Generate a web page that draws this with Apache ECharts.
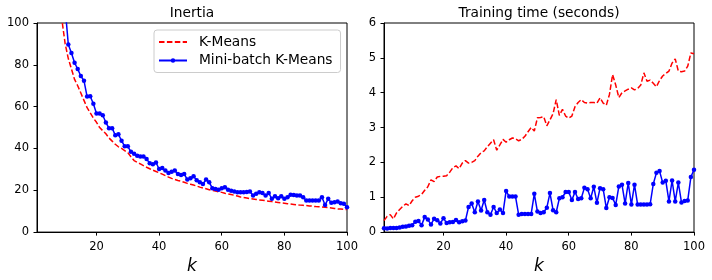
<!DOCTYPE html>
<html>
<head>
<meta charset="utf-8">
<script src="https://cdn.jsdelivr.net/npm/echarts@6/dist/echarts.min.js"></script>
<style>html,body{margin:0;padding:0;background:#fff}#c{width:712px;height:280px}</style>
</head>
<body>
<div id="c"></div>
<script>
const ks = [1,2,3,4,5,6,7,8,9,10,11,12,13,14,15,16,17,18,19,20,21,22,23,24,25,26,27,28,29,30,31,32,33,34,35,36,37,38,39,40,41,42,43,44,45,46,47,48,49,50,51,52,53,54,55,56,57,58,59,60,61,62,63,64,65,66,67,68,69,70,71,72,73,74,75,76,77,78,79,80,81,82,83,84,85,86,87,88,89,90,91,92,93,94,95,96,97,98,99,100];

const inertiaKMeans = [3500,1500,700,400,212,170,140,115,101,90,83,78,73,70,66.5,63,59.5,57,54.5,52.5,50,48.5,47,45,43.5,42,40.8,40,39,38,36,34.2,33.4,32.6,31.8,31.0,30.3,29.6,29.0,28.4,27.7,27.0,26.3,25.7,25.2,24.7,24.3,23.8,23.3,22.9,22.5,22.0,21.5,21.1,20.7,20.3,19.9,19.6,19.3,19.0,18.6,18.3,18.0,17.6,17.3,16.8,16.5,16.3,16.0,15.8,15.6,15.4,15.2,15.0,14.8,14.6,14.4,14.2,14.0,13.8,13.6,13.4,13.2,13.0,12.9,12.8,12.7,12.5,12.4,12.2,12.1,12.0,11.9,11.7,11.5,11.3,11.1,11.0,10.9,10.8];

const inertiaMiniBatch = [3600,1300,700,420,230,190,160,140,120,107,89.7,85.7,81,78,74.6,72.4,64.8,65,61.4,56.7,56.7,55.9,52.4,49.7,49.7,46.3,46.8,43.7,41,41,38.4,37.5,36.5,36.2,36.2,34.9,32.9,32.5,33.3,30.2,30.6,29.4,28.3,28.9,29.4,27.8,27.3,27.8,25.1,25.7,26.7,24.8,23.8,23,25.1,23.8,21,20.6,20.2,21,21.4,20.3,19.8,19.4,19,19,19,19.2,19.4,17.5,18.3,19,18.7,17.5,18.7,15.9,17.1,16.2,17.1,15.9,16.7,17.9,17.8,17.5,17.5,16.7,15.1,15.1,15.1,15.1,15.1,16.7,13,15.9,14,14.3,14.6,13.8,13.5,11.9];

const timeKMeans = [0.33,0.45,0.5,0.38,0.55,0.65,0.74,0.81,0.76,0.9,1.0,1.03,1.08,1.2,1.3,1.5,1.45,1.58,1.6,1.6,1.62,1.72,1.85,1.9,1.82,1.98,2.05,1.98,2.0,2.05,2.18,2.28,2.33,2.45,2.55,2.65,2.35,2.5,2.66,2.58,2.65,2.7,2.68,2.62,2.66,2.75,2.88,3.0,2.9,3.28,3.29,3.31,3.05,3.22,3.4,3.8,3.35,3.52,3.33,3.27,3.33,3.6,3.72,3.8,3.72,3.7,3.72,3.72,3.7,3.85,3.7,3.64,3.95,4.52,4.22,3.86,4.0,4.05,4.1,4.14,4.08,4.12,4.22,4.57,4.33,4.36,4.27,4.17,4.35,4.48,4.55,4.62,4.85,4.97,4.62,4.6,4.62,4.76,5.14,5.12];

const timeMiniBatch = [0.11,0.1,0.12,0.12,0.12,0.13,0.15,0.16,0.18,0.2,0.3,0.32,0.2,0.43,0.36,0.22,0.38,0.34,0.25,0.4,0.26,0.28,0.29,0.35,0.28,0.31,0.33,0.72,0.82,0.57,0.88,0.62,0.92,0.57,0.5,0.72,0.55,0.65,0.55,1.18,1.02,1.02,1.02,0.5,0.52,0.52,0.52,0.52,1.1,0.59,0.55,0.57,0.7,1.12,0.63,0.57,0.97,1.0,1.15,1.15,0.92,1.15,0.95,0.97,1.27,1.23,0.97,1.3,0.84,1.26,1.23,0.69,1.0,0.98,0.78,1.31,1.36,0.82,1.41,0.79,1.36,0.79,0.79,0.79,0.79,0.8,1.38,1.7,1.75,1.42,1.47,0.88,1.48,0.88,1.42,0.85,0.89,0.91,1.58,1.79];

const xTicks = [20,40,60,80,100];
const titles = ['Inertia','Training time (seconds)'];
const seriesNames = ['K-Means','Mini-batch K-Means'];
const xName = 'k';

const FONT = 'DejaVu Sans';
const pair = (ys) => ks.map((k, i) => [k, ys[i]]);

function xAxisFor(gi) {
  return {
    type: 'value', gridIndex: gi, min: 1, max: 100,
    name: xName, nameLocation: 'middle', nameGap: 23,
    nameTextStyle: {fontFamily: FONT, fontSize: 17, fontStyle: 'italic', color: '#000'},
    axisLine: {show: true, onZero: false, lineStyle: {color: '#000', width: 1}},
    axisTick: {show: true, inside: false, length: 3.5, customValues: xTicks, lineStyle: {color: '#000', width: 1}},
    axisLabel: {customValues: xTicks, fontFamily: FONT, fontSize: 11.5, color: '#000', margin: 9},
    splitLine: {show: false}
  };
}
function yAxisFor(gi, max, interval) {
  return {
    type: 'value', gridIndex: gi, min: 0, max: max, interval: interval,
    axisLine: {show: true, lineStyle: {color: '#000', width: 1}},
    axisTick: {show: true, inside: false, length: 3.5, lineStyle: {color: '#000', width: 1}},
    axisLabel: {fontFamily: FONT, fontSize: 11.5, color: '#000', margin: 8},
    splitLine: {show: false}
  };
}
function redSeries(gi, ys) {
  return {
    name: seriesNames[0], type: 'line', xAxisIndex: gi, yAxisIndex: gi,
    data: pair(ys), symbol: 'none', clip: true, animation: false,
    lineStyle: {color: '#ff0000', width: 1.5, type: [5.5, 2.4]},
    itemStyle: {color: '#ff0000'}
  };
}
function blueSeries(gi, ys) {
  return {
    name: seriesNames[1], type: 'line', xAxisIndex: gi, yAxisIndex: gi,
    data: pair(ys), symbol: 'circle', symbolSize: 4.5, showSymbol: true, clip: true, animation: false,
    lineStyle: {color: '#0000ff', width: 1.5},
    itemStyle: {color: '#0000ff'}
  };
}

const chart = echarts.init(document.getElementById('c'), null, {renderer: 'canvas'});
chart.setOption({
  animation: false,
  backgroundColor: '#fff',
  grid: [
    {left: 37, top: 23, width: 310, height: 210, show: true, borderColor: '#000', borderWidth: 1, backgroundColor: 'transparent'},
    {left: 384, top: 23, width: 310, height: 210, show: true, borderColor: '#000', borderWidth: 1, backgroundColor: 'transparent'}
  ],
  xAxis: [xAxisFor(0), xAxisFor(1)],
  yAxis: [yAxisFor(0, 100, 20), yAxisFor(1, 6, 1)],
  legend: {
    data: [
      {name: seriesNames[0], itemStyle: {opacity: 0}},
      {name: seriesNames[1]}
    ],
    orient: 'vertical', left: 154, top: 30,
    itemWidth: 28, itemHeight: 5.5, itemGap: 4.5,
    padding: [5, 8, 5, 4],
    borderColor: '#cccccc', borderWidth: 1, borderRadius: 3,
    backgroundColor: 'rgba(255,255,255,0.8)',
    textStyle: {fontFamily: FONT, fontSize: 13.75, color: '#000', padding: [0, 0, 0, 7]},
    selectedMode: false
  },
  graphic: titles.map((t, i) => ({
    type: 'text', silent: true,
    x: i === 0 ? 192 : 539, y: 13.3,
    style: {text: t, fontFamily: FONT, fontSize: 13.75, fill: '#000', align: 'center', verticalAlign: 'middle'}
  })),
  series: [
    redSeries(0, inertiaKMeans), blueSeries(0, inertiaMiniBatch),
    redSeries(1, timeKMeans), blueSeries(1, timeMiniBatch)
  ]
});
</script>
</body>
</html>
